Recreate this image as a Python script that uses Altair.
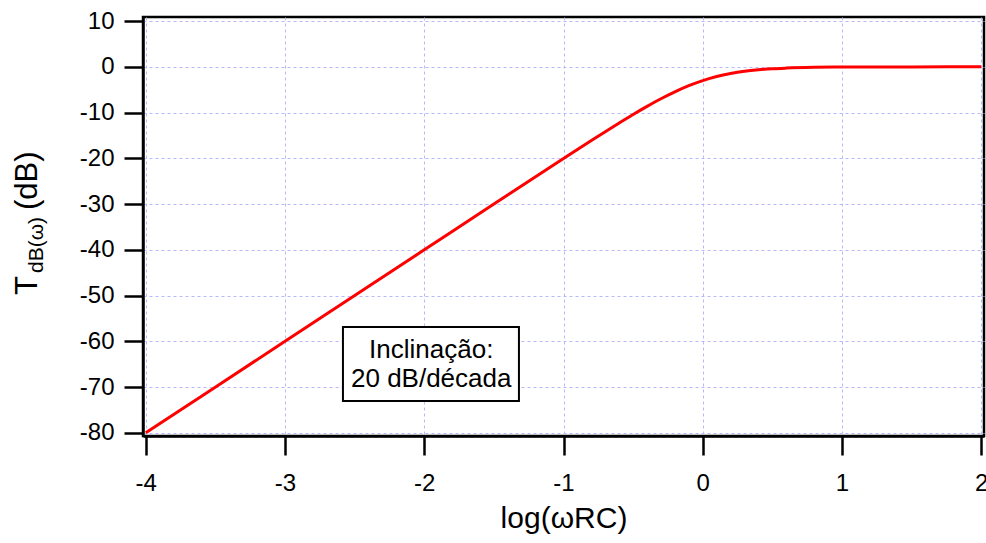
import altair as alt
import pandas as pd

# Curve values
log_wrc = [-4, -3, -2, -1.5, -1, -0.9, -0.8, -0.7, -0.6, -0.5, -0.4, -0.3, -0.2,
           -0.1, 0, 0.1, 0.2, 0.3, 0.4, 0.5, 0.6, 0.8, 1, 1.5, 2]
t_db = [-80, -60, -40, -30, -20.04, -18.07, -16.11, -14.17, -12.27, -10.41, -8.64,
        -6.97, -5.46, -4.12, -3.01, -2.12, -1.46, -0.97, -0.64, -0.41, -0.27,
        -0.11, -0.04, -0.004, 0]

x_ticks = [-4, -3, -2, -1, 0, 1, 2]
y_ticks = [10, 0, -10, -20, -30, -40, -50, -60, -70, -80]

# annotation box (data coordinates) and its text
box_x = [-2.584]
box_x2 = [-1.32]
box_y = [-56.87]
box_y2 = [-73.05]
note_lines = ["Inclinação:", "20 dB/década"]
note_x = [-1.95, -1.95]
note_y = [-63.65, -69.99]

FONT = "Liberation Sans"
LABEL_EXPR = "datum.value < 0 ? '-' + abs(datum.value) : '' + datum.value"

df = pd.DataFrame({"u": log_wrc, "t": t_db})
box_df = pd.DataFrame({"x": box_x, "x2": box_x2, "y": box_y, "y2": box_y2})
note_df = pd.DataFrame({"x": note_x, "y": note_y, "txt": note_lines})

xscale = alt.Scale(domain=[-4.02, 2.02], nice=False, zero=False)
yscale = alt.Scale(domain=[-80.7, 10.9], nice=False, zero=False)

grid_color = "#b8b8ff"

line = alt.Chart(df).mark_line(color="#ff0000", strokeWidth=3, interpolate="monotone").encode(
    x=alt.X("u:Q", scale=xscale,
            axis=alt.Axis(values=x_ticks, title="log(ωRC)", titleFont=FONT,
                          titleFontSize=30, titleFontWeight="normal", titleColor="black",
                          titlePadding=8, labelExpr=LABEL_EXPR,
                          labelFont=FONT, labelFontSize=24, labelColor="black",
                          labelPadding=16, tickSize=19, tickWidth=2.5, tickColor="black",
                          domainColor="black", domainWidth=2.5,
                          grid=True, gridColor=grid_color, gridDash=[3, 3], gridWidth=1,
                          labelFlush=False)),
    y=alt.Y("t:Q", scale=yscale,
            axis=alt.Axis(values=y_ticks, title=None, labelExpr=LABEL_EXPR,
                          labelFont=FONT, labelFontSize=24, labelColor="black",
                          labelPadding=10, tickSize=19, tickWidth=2.5, tickColor="black",
                          domainColor="black", domainWidth=2.5,
                          grid=True, gridColor=grid_color, gridDash=[3, 3], gridWidth=1,
                          labelFlush=False)),
)

box = alt.Chart(box_df).mark_rect(fill="white", stroke="black", strokeWidth=2).encode(
    x="x:Q", x2="x2:Q", y="y:Q", y2="y2:Q"
)

note = alt.Chart(note_df).mark_text(font=FONT, fontSize=26, color="black",
                                    align="center", baseline="alphabetic").encode(
    x="x:Q", y="y:Q", text="txt:N"
)

# y-axis title with subscript, built from pieces
def piece(txt, size, px, py):
    return alt.Chart(pd.DataFrame({"s": [txt]})).mark_text(
        font=FONT, fontSize=size, color="black", angle=270,
        align="left", baseline="alphabetic").encode(
        x=alt.value(px), y=alt.value(py), text="s:N")

ytitle = piece("T", 31, -106, 278) + piece("dB(ω)", 21, -100, 256) + piece("(dB)", 31, -106, 193)

chart = alt.layer(line, box, note, ytitle).properties(
    width=841, height=419,
    autosize=alt.AutoSizeParams(type="none"),
    padding={"left": 143, "top": 17, "right": 2, "bottom": 107},
    background="white",
).configure_view(stroke="black", strokeWidth=2.5)

chart.save("out.html", embed_options={"renderer": "svg", "actions": False})
